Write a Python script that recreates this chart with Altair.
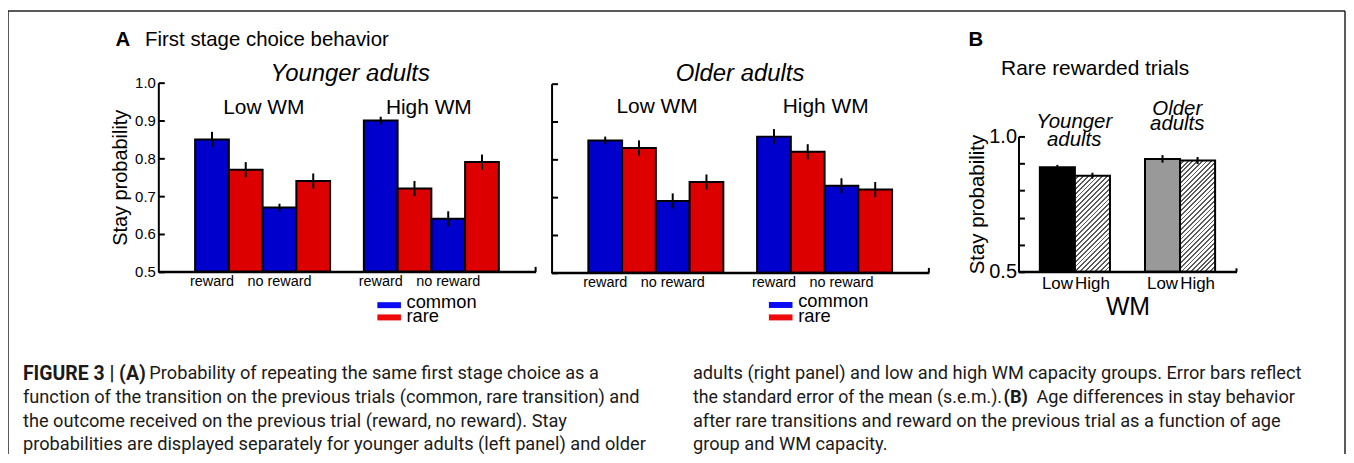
import altair as alt
import pandas as pd

# ---------------- data ----------------
wm_groups = ["Low WM", "Low WM", "Low WM", "Low WM", "High WM", "High WM", "High WM", "High WM"]
outcomes = ["reward", "reward", "no reward", "no reward", "reward", "reward", "no reward", "no reward"]
transitions = ["common", "rare", "common", "rare", "common", "rare", "common", "rare"]
young_mean = [0.85, 0.77, 0.67, 0.74, 0.90, 0.72, 0.64, 0.79]
young_sem = [0.02, 0.02, 0.01, 0.02, 0.01, 0.02, 0.02, 0.02]
older_mean = [0.85, 0.83, 0.69, 0.74, 0.86, 0.82, 0.73, 0.72]
older_sem = [0.01, 0.02, 0.02, 0.02, 0.02, 0.02, 0.02, 0.02]
y_ticks = [0.5, 0.6, 0.7, 0.8, 0.9, 1.0]
legend_items = ["common", "rare"]

b_age = ["Younger", "Younger", "Older", "Older"]
b_wm = ["Low", "High", "Low", "High"]
b_mean = [0.886, 0.855, 0.917, 0.911]
b_sem = [0.009, 0.011, 0.014, 0.013]

caption_left = [
    "function of the transition on the previous trials (common, rare transition) and",
    "the outcome received on the previous trial (reward, no reward). Stay",
    "probabilities are displayed separately for younger adults (left panel) and older",
]
caption_right = [
    "adults (right panel) and low and high WM capacity groups. Error bars reflect",
    "after rare transitions and reward on the previous trial as a function of age",
    "group and WM capacity.",
]

# ---------------- layout / style ----------------
W, H = 1344, 447
FONT = "Liberation Sans"
CFONT = "Roboto"
BLUE, RED = "#0000CC", "#DD0000"
LBLUE, LRED = "#0A0AF5", "#EE0A0A"


def make_df(means, sems):
    df = pd.DataFrame({"wm": wm_groups, "outcome": outcomes, "transition": transitions,
                       "val": means, "sem": sems})
    df["slot"] = df["wm"] + "|" + df["outcome"] + "|" + df["transition"]
    df["lo"] = df["val"] - df["sem"]
    df["hi"] = df["val"] + df["sem"]
    return df


young_df = make_df(young_mean, young_sem)
older_df = make_df(older_mean, older_sem)
slots = list(young_df["slot"])
slot_domain = ["padL"] + slots[:4] + ["gap"] + slots[4:] + ["padR"]
label_slots = [s for s in slots if s.endswith("common")]

AX = dict(domain=True, domainColor="black", domainWidth=2)


def baseline(ys, x0, x1):
    """x-axis line at the bottom of the value scale, with the small upward end tick."""
    base = pd.DataFrame({"v": [0.5]})
    line = alt.Chart(base).mark_rule(color="black", strokeWidth=2.2).encode(
        x=alt.value(x0), x2=alt.value(x1), y=alt.Y("v:Q", scale=ys, axis=None))
    end = alt.Chart(base).mark_rule(color="black", strokeWidth=2).encode(
        x=alt.value(x1), y=alt.Y("v:Q", scale=ys, axis=None), y2=alt.datum(0.513))
    return [line, end]


def a_panel(df, x0, x1, yb, yt, first):
    xs = alt.Scale(domain=slot_domain, range=[x0, x1], paddingInner=0, paddingOuter=0.09)
    ys = alt.Scale(domain=[0.5, 1.0], range=[yb, yt], zero=False, nice=False)
    xaxis = alt.Axis(orient="bottom", offset=yb - H, values=label_slots, bandPosition=1,
                     labelExpr="split(datum.value, '|')[1]", ticks=False, title=None,
                     labelFontSize=14.5, labelPadding=3, labelAngle=0, **AX)
    if first:
        yaxis = alt.Axis(orient="left", offset=-x0, values=y_ticks, format=".1f", ticks=False,
                         labelFontSize=15, labelPadding=3, title="Stay probability",
                         titleFontSize=20, titleFontWeight="normal", titlePadding=4, **AX)
    else:
        yaxis = alt.Axis(orient="left", offset=-x0, values=y_ticks, ticks=False,
                         labels=False, title=None, **AX)
    bars = alt.Chart(df).mark_bar(stroke="black", strokeWidth=2, opacity=1).encode(
        x=alt.X("slot:N", scale=xs, axis=xaxis),
        y=alt.Y("val:Q", scale=ys, axis=yaxis),
        y2=alt.datum(0.5),
        color=alt.Color("transition:N",
                        scale=alt.Scale(domain=legend_items, range=[BLUE, RED]), legend=None),
    )
    errs = alt.Chart(df).mark_rule(color="black", strokeWidth=2).encode(
        x=alt.X("slot:N", scale=xs, axis=None),
        y=alt.Y("lo:Q", scale=ys,
                axis=alt.Axis(orient="right", offset=x0 - W, values=y_ticks, labels=False,
                              domain=False, ticks=True, tickSize=6, title=None)),
        y2="hi:Q",
    )
    return alt.layer(bars, errs, *baseline(ys, x0, x1)).resolve_axis(x="independent", y="independent")


def legend_block(x_sw, y_sw, x_txt, y_txt):
    ldf = pd.DataFrame({"transition": legend_items})
    sw = alt.Chart(ldf).mark_rule(strokeWidth=6).encode(
        x=alt.value(x_sw), x2=alt.value(x_sw + 23.7),
        y=alt.Y("transition:N", axis=None,
                scale=alt.Scale(type="point", domain=legend_items, range=y_sw, padding=0)),
        color=alt.Color("transition:N", legend=None,
                        scale=alt.Scale(domain=legend_items, range=[LBLUE, LRED])),
    )
    tx = alt.Chart(ldf).mark_text(align="left", baseline="middle", fontSize=18.4, font=FONT,
                                  color="black").encode(
        x=alt.value(x_txt),
        y=alt.Y("transition:N", axis=None,
                scale=alt.Scale(type="point", domain=legend_items, range=y_txt, padding=0)),
        text="transition:N",
    )
    return alt.layer(sw, tx).resolve_scale(y="independent")


young_panel = a_panel(young_df, 151, 530, 264, 74, True)
older_panel = a_panel(older_df, 546, 925, 265, 75, False)
young_legend = legend_block(371, [297.5, 309.8], 400.3, [294.0, 308.3])
older_legend = legend_block(764.3, [297.3, 309.8], 793.7, [293.8, 308.1])

# ---------------- panel B ----------------
b_df = pd.DataFrame({"age": b_age, "wm": b_wm, "val": b_mean, "sem": b_sem})
b_df["slot"] = b_df["age"] + "|" + b_df["wm"]
b_df["lo"] = b_df["val"] - b_df["sem"]
b_df["hi"] = b_df["val"] + b_df["sem"]
b_slots = list(b_df["slot"])
b_domain = b_slots[:2] + ["gap"] + b_slots[2:]

BX0, BX1, BYB, BYT = 1015, 1234, 264, 128
bxs = alt.Scale(domain=b_domain, range=[BX0, BX1], paddingInner=0, paddingOuter=0.61)
bys = alt.Scale(domain=[0.5, 1.0], range=[BYB, BYT], zero=False, nice=False)
band_w = (BX1 - BX0) / (5 + 2 * 0.61)


def hatch(w, h, period=3.4, line_frac=0.38, bg="#ffffff", fg="#5a5a5a"):
    a = (w + h) / (w * w + h * h)
    n = max(1, round((w + h) / (period * 2 ** 0.5)))
    stops = []
    for k in range(n):
        o1 = (k + 1 - line_frac) / n
        stops += [{"offset": k / n, "color": bg}, {"offset": o1, "color": bg},
                  {"offset": o1, "color": fg}, {"offset": (k + 1) / n, "color": fg}]
    return {"gradient": "linear", "x1": 0, "y1": 0, "x2": a * w, "y2": a * h, "stops": stops}


def b_bar(slot, fill, with_axes=False):
    if with_axes:
        xa = alt.Axis(orient="bottom", offset=BYB - H, values=b_slots,
                      labelExpr="split(datum.value, '|')[1]", ticks=False, labelAngle=0,
                      labelFontSize=17, labelPadding=4, title="WM", titleFontSize=25,
                      titleFontWeight="normal", titlePadding=3, **AX)
        ya = alt.Axis(orient="left", offset=-BX0, values=[0.5, 1.0], format=".1f", ticks=False,
                      labelFontSize=20, labelPadding=2, title="Stay probability",
                      titleFontSize=20.5, titleFontWeight="normal", titlePadding=1, **AX)
    else:
        xa, ya = None, None
    return alt.Chart(b_df).transform_filter(alt.datum.slot == slot).mark_bar(
        stroke="black", strokeWidth=2, fill=fill, opacity=1).encode(
        x=alt.X("slot:N", scale=bxs, axis=xa),
        y=alt.Y("val:Q", scale=bys, axis=ya),
        y2=alt.datum(0.5),
    )


def bar_h(v):
    return (v - 0.5) / 0.5 * (BYB - BYT)


b_layers = [
    b_bar(b_slots[0], "black", with_axes=True),
    b_bar(b_slots[1], hatch(band_w, bar_h(b_mean[1]))),
    b_bar(b_slots[2], "#999999"),
    b_bar(b_slots[3], hatch(band_w, bar_h(b_mean[3]))),
]
b_errs = alt.Chart(b_df).mark_rule(color="black", strokeWidth=2).encode(
    x=alt.X("slot:N", scale=bxs, axis=None),
    y=alt.Y("lo:Q", scale=bys,
            axis=alt.Axis(orient="right", offset=BX0 - W, values=y_ticks, labels=False,
                          domain=False, ticks=True, tickSize=6, title=None)),
    y2="hi:Q",
)
b_panel = alt.layer(*b_layers, b_errs, *baseline(bys, BX0, BX1)).resolve_axis(
    x="independent", y="independent")


# ---------------- annotations ----------------
def txt(s, x, y, size, weight="normal", style="normal", align="center", font=FONT, color="black"):
    return alt.Chart(pd.DataFrame({"s": [s]})).mark_text(
        align=align, baseline="middle", fontSize=size, fontWeight=weight, fontStyle=style,
        font=font, color=color).encode(text="s:N", x=alt.value(x), y=alt.value(y))


def rule(x, y, x2=None, y2=None, width=2, color="black"):
    enc = {"x": alt.value(x), "y": alt.value(y)}
    if x2 is not None:
        enc["x2"] = alt.value(x2)
    if y2 is not None:
        enc["y2"] = alt.value(y2)
    return alt.Chart(pd.DataFrame({"k": [0]})).mark_rule(color=color, strokeWidth=width).encode(**enc)


texts = [
    txt("A", 108, 30.8, 20.5, weight="bold", align="left"),
    txt("First stage choice behavior", 137.7, 30.8, 20.5, align="left"),
    txt("Younger adults", 343.7, 65.8, 24, style="italic"),
    txt("Low WM", 257, 99, 21),
    txt("High WM", 422.7, 99, 21),
    txt("Older adults", 735.3, 65.5, 24, style="italic"),
    txt("Low WM", 652, 98, 21),
    txt("High WM", 821.3, 98, 21),
    txt("B", 964.7, 30.8, 20.5, weight="bold", align="left"),
    txt("Rare rewarded trials", 1092, 60, 21),
    txt("Younger", 1071, 113.8, 20.5, style="italic"),
    txt("adults", 1071, 131.2, 20.5, style="italic"),
    txt("Older", 1174.5, 100, 20.5, style="italic"),
    txt("adults", 1174.5, 116, 20.5, style="italic"),
]

CAP_Y = [367, 391, 415, 438]
CAP_SIZE = 18.3
CAP_COLOR = "#1a1a1a"
caption = [
    txt("FIGURE 3 | (A)", 15, CAP_Y[0], 19.5, weight="bold", align="left", font=CFONT, color=CAP_COLOR),
    txt("Probability of repeating the same first stage choice as a", 142, CAP_Y[0], CAP_SIZE,
        align="left", font=CFONT, color=CAP_COLOR),
]
for i, line in enumerate(caption_left):
    caption.append(txt(line, 15, CAP_Y[i + 1], CAP_SIZE, align="left", font=CFONT, color=CAP_COLOR))
caption += [
    txt(caption_right[0], 688, CAP_Y[0], CAP_SIZE, align="left", font=CFONT, color=CAP_COLOR),
    txt("the standard error of the mean (s.e.m.).", 688, CAP_Y[1], 17.8, align="left",
        font=CFONT, color=CAP_COLOR),
    txt("(B)", 1000, CAP_Y[1], CAP_SIZE, weight="bold", align="left", font=CFONT, color=CAP_COLOR),
    txt("Age differences in stay behavior", 1033, CAP_Y[1], CAP_SIZE, align="left",
        font=CFONT, color=CAP_COLOR),
    txt(caption_right[1], 688, CAP_Y[2], CAP_SIZE, align="left", font=CFONT, color=CAP_COLOR),
    txt(caption_right[2], 688, CAP_Y[3], CAP_SIZE, align="left", font=CFONT, color=CAP_COLOR),
]

frame = [
    rule(0, 2, y2=H, width=1.5, color="#222222"),
    rule(0, 2, x2=1343, width=1.5, color="#222222"),
    rule(1343, 2, y2=H, width=1.5, color="#222222"),
]

chart = alt.layer(young_panel, older_panel, b_panel, young_legend, older_legend,
                  *texts, *caption, *frame).resolve_scale(
    x="independent", y="independent", color="independent"
).resolve_axis(x="independent", y="independent").resolve_legend(color="independent").properties(
    width=W, height=H, padding=0, autosize="none", background="white"
).configure_axis(
    grid=False, domainColor="black", domainWidth=2, tickColor="black", tickWidth=2,
    labelColor="black", titleColor="black", labelFont=FONT, titleFont=FONT
).configure_view(stroke=None)

chart.save("out.html", embed_options={"renderer": "svg", "actions": False})
